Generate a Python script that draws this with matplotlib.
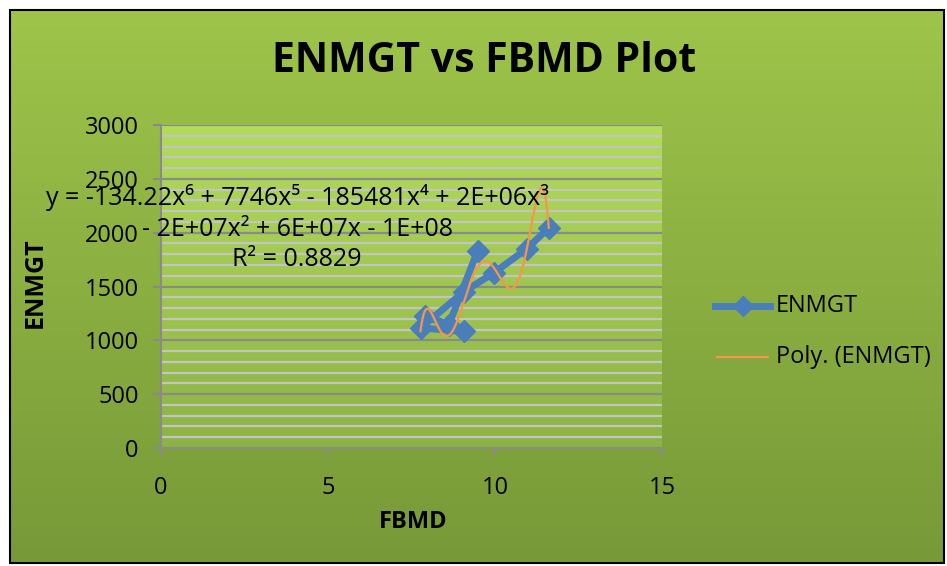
import numpy as np, warnings
import matplotlib
matplotlib.use("Agg")
import matplotlib.pyplot as plt
from matplotlib.patches import Rectangle
from matplotlib.lines import Line2D
warnings.simplefilter('ignore')

plt.rcParams['font.family'] = ['Open Sans', 'DejaVu Sans']

# data (in original series order)
fbmd = [9.48, 8.62, 7.91, 9.07, 7.77, 9.07, 9.96, 10.95, 11.61]
enmgt = [1832, 1146, 1226, 1083, 1115, 1451, 1626, 1850, 2044]
x_ticks = [0, 5, 10, 15]
y_ticks = [0, 500, 1000, 1500, 2000, 2500, 3000]
title = "ENMGT vs FBMD Plot"
x_label = "FBMD"
y_label = "ENMGT"
legend_labels = ["ENMGT", "Poly. (ENMGT)"]
eq_text = "y = -134.22x⁶ + 7746x⁵ - 185481x⁴ + 2E+06x³\n- 2E+07x² + 6E+07x - 1E+08\nR² = 0.8829"

W, H = 947, 566
fig = plt.figure(figsize=(W/100, H/100), dpi=100)
fig.patch.set_facecolor('white')

# outer chart panel
bg = fig.add_axes([0, 0, 1, 1])
bg.set_xlim(0, W); bg.set_ylim(H, 0); bg.axis('off')
grad = np.linspace(0, 1, 256)[:, None]
c_top = np.array([0.62, 0.77, 0.29]); c_bot = np.array([0.47, 0.60, 0.22])
img = np.repeat(c_top + (c_bot - c_top) * grad[..., None], 2, axis=1)
bg.imshow(img, extent=[11, 944, 563, 11], aspect='auto', zorder=0)
bg.add_patch(Rectangle((10, 10), 934, 553, fill=False, ec='black', lw=1.5, zorder=2))

# plot area
L, R, T, B = 161, 662, 125, 448
ax = fig.add_axes([L/W, 1-B/H, (R-L)/W, (B-T)/H])
p_top = np.array([0.70, 0.86, 0.36]); p_bot = np.array([0.55, 0.70, 0.27])
pimg = np.repeat(p_top + (p_bot - p_top) * grad[..., None], 2, axis=1)
ax.imshow(pimg, extent=[0, 15, 0, 3000], aspect='auto', zorder=0)
ax.set_xlim(0, 15); ax.set_ylim(0, 3000)
for vv in range(100, 3001, 100):
    ax.axhline(vv, color='#8a8a8a' if vv % 500 == 0 else '#c4c4c4', lw=1.6, zorder=1)
for s in ['top', 'right']:
    ax.spines[s].set_visible(False)
for s in ['left', 'bottom']:
    ax.spines[s].set_color('#8a8a8a'); ax.spines[s].set_linewidth(1.5)
ax.set_xticks(x_ticks); ax.set_yticks(y_ticks)
ax.tick_params(axis='both', direction='out', length=6, color='#8a8a8a', width=1.5, labelsize=17)
ax.tick_params(axis='y', pad=10); ax.tick_params(axis='x', pad=14)

# series and 6th-order polynomial trendline fitted to the data
coef = np.polyfit(fbmd, enmgt, 6)
xs = np.linspace(min(fbmd), max(fbmd), 400)
ax.plot(fbmd, enmgt, color='#4a7ebb', lw=5, marker='D', markersize=11, zorder=3)
ax.plot(xs, np.polyval(coef, xs), color='#f79646', lw=1.6, zorder=4)

fig.text(35/W, 1-283/H, y_label, rotation=90, ha='center', va='center', fontsize=18, fontweight='bold')
fig.text(413/W, 1-522/H, x_label, ha='center', va='center', fontsize=17, fontweight='bold')
fig.text(484/W, 1-62/H, title, ha='center', va='center', fontsize=29.5, fontweight='bold')
fig.text(297/W, 1-228/H, eq_text, ha='center', va='center', fontsize=18, linespacing=1.3, zorder=10)

# legend
fig.add_artist(Line2D([715/W, 770/W], [1-306/H]*2, color='#4a7ebb', lw=5))
fig.add_artist(Line2D([742.5/W], [1-306/H], color='#4a7ebb', marker='D', markersize=10, lw=0))
fig.add_artist(Line2D([717/W, 768/W], [1-357/H]*2, color='#f79646', lw=1.6))
fig.text(776/W, 1-306/H, legend_labels[0], ha='left', va='center', fontsize=17)
fig.text(776/W, 1-357/H, legend_labels[1], ha='left', va='center', fontsize=17)

fig.savefig('out.png', dpi=100)
